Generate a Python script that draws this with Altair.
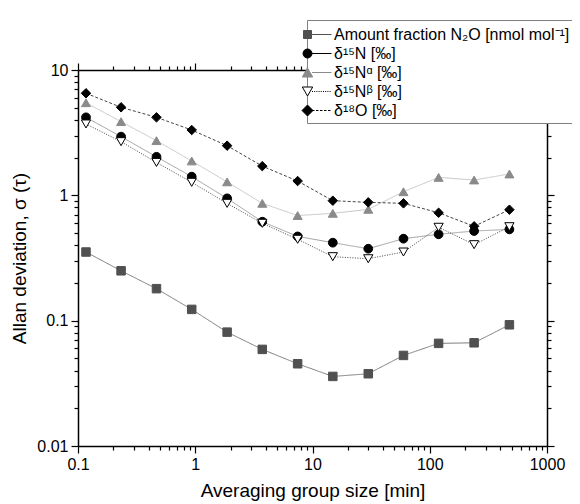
import altair as alt
import pandas as pd

# ---------------- data ----------------
minutes = [0.117, 0.233, 0.467, 0.933, 1.87, 3.73, 7.47, 14.9, 29.9, 59.7, 119, 239, 478]
series = ["Amount fraction N₂O [nmol mol⁻¹]", "δ¹⁵N [‰]", "δ¹⁵Nᵅ [‰]", "δ¹⁵Nᵝ [‰]", "δ¹⁸O [‰]"]
amount = [0.353, 0.250, 0.180, 0.123, 0.081, 0.059, 0.0453, 0.0359, 0.0377, 0.0528, 0.0659, 0.0666, 0.0927]
d15N = [4.19, 2.94, 2.03, 1.41, 0.946, 0.616, 0.470, 0.419, 0.375, 0.451, 0.489, 0.519, 0.535]
d15Na = [5.48, 3.87, 2.73, 1.88, 1.28, 0.863, 0.690, 0.718, 0.773, 1.068, 1.39, 1.325, 1.48]
d15Nb = [3.71, 2.68, 1.83, 1.27, 0.863, 0.598, 0.446, 0.324, 0.312, 0.353, 0.556, 0.404, 0.562]
d18O = [6.52, 5.04, 4.19, 3.32, 2.49, 1.71, 1.30, 0.906, 0.879, 0.863, 0.726, 0.566, 0.768]

x_ticks = [float(f"{m}e{e}") for e in range(-1, 3) for m in range(1, 10)] + [1000.0]
y_ticks = [float(f"{m}e{e}") for e in range(-2, 1) for m in range(1, 10)] + [10.0]

# ---------------- styles ----------------
line_colors = ["#7a7a7a", "#a0a0a0", "#c8c8c8", "#444444", "#444444"]
line_dashes = [[1, 0], [1, 0], [1, 0], [1, 1.5], [3, 2]]
point_fill = ["#505050", "#000000", "#8a8a8a", "#ffffff", "#000000"]
point_stroke = ["#505050", "#000000", "#8a8a8a", "#000000", "#000000"]
point_shape = ["square", "circle", "triangle-up", "triangle-down", "diamond"]
point_size = [72, 90, 121, 121, 121]


def stub(dash, gap):
    if gap == 0:
        return "M-0.95,0H1"
    out, pos = [], -0.95
    while pos < 1:
        end = min(pos + dash, 1)
        out.append(f"M{pos:.3f},0H{end:.3f}")
        pos = end + gap
    return "".join(out)


legend_paths = [
    "M-1.8,-0.4H-1V0.4H-1.8Z" + stub(1, 0),
    "M-1.85,0A0.45,0.45 0 1,0 -0.95,0A0.45,0.45 0 1,0 -1.85,0Z" + stub(1, 0),
    "M-1.4,-0.45L-1.92,0.45L-0.88,0.45Z" + stub(1, 0),
    "M-1.4,0.45L-1.92,-0.45L-0.88,-0.45Z" + stub(0.1, 0.12),
    "M-1.4,-0.55L-0.85,0L-1.4,0.55L-1.95,0Z" + stub(0.25, 0.15),
]

rows = []
for i, (name, vals) in enumerate(zip(series, [amount, d15N, d15Na, d15Nb, d18O])):
    for xv, yv in zip(minutes, vals):
        rows.append({"x": xv, "y": yv, "series": name, "label": name, "ord": i})
df = pd.DataFrame(rows)

FONT = "Liberation Sans, Arial, Helvetica, sans-serif"
MAJOR = "abs(log(datum.value)/LN10 - round(log(datum.value)/LN10)) < 0.001"


def make_axis(orient, ticks, title=None, labels=True, title_pad=8):
    kw = dict(
        orient=orient,
        values=ticks,
        tickSize={"condition": {"test": MAJOR, "value": 7}, "value": 4},
        labels=labels,
        labelOverlap=False,
        labelFlush=False,
        grid=False,
        zindex=1,
    )
    if labels:
        kw["labelExpr"] = f"{MAJOR} ? format(datum.value, '~g') : ''"
    if title is not None:
        kw["title"] = title
        kw["titlePadding"] = title_pad
    else:
        kw["title"] = None
    return alt.Axis(**kw)


xs = alt.Scale(type="log", domain=[0.1, 1000], nice=False)
ys = alt.Scale(type="log", domain=[0.01, 10], nice=False)

lines = alt.Chart(df).mark_line(strokeWidth=1).encode(
    x=alt.X("x:Q", scale=xs, axis=make_axis("bottom", x_ticks, "Averaging group size [min]", title_pad=9)),
    y=alt.Y("y:Q", scale=ys, axis=make_axis("left", y_ticks, "Allan deviation, σ (τ)", title_pad=7)),
    stroke=alt.Stroke("series:N", scale=alt.Scale(domain=series, range=line_colors), legend=None),
    strokeDash=alt.StrokeDash("series:N", scale=alt.Scale(domain=series, range=line_dashes), legend=None),
    detail="series:N",
)

points = alt.Chart(df).mark_point(opacity=1, strokeWidth=1).encode(
    x=alt.X("x:Q", scale=xs, axis=make_axis("top", x_ticks, labels=False)),
    y=alt.Y("y:Q", scale=ys, axis=make_axis("right", y_ticks, labels=False)),
    shape=alt.Shape("series:N", scale=alt.Scale(domain=series, range=point_shape), legend=None),
    fill=alt.Fill("series:N", scale=alt.Scale(domain=series, range=point_fill), legend=None),
    stroke=alt.Stroke("series:N", scale=alt.Scale(domain=series, range=point_stroke), legend=None),
    size=alt.Size("series:O", scale=alt.Scale(domain=series, range=point_size), legend=None),
    order=alt.Order("ord:Q"),
)

leg = alt.Legend(
    orient="none", legendX=229, legendY=-50, title=None,
    padding=4, strokeColor="#808080", fillColor="white",
    labelFont=FONT, labelFontSize=16, labelColor="black", labelLimit=0,
    labelOffset=2, symbolSize=400, symbolStrokeWidth=1, rowPadding=0, zindex=2,
)

legend_layer = alt.Chart(df).transform_filter("false").mark_point(opacity=1, strokeWidth=1).encode(
    shape=alt.Shape("label:N", scale=alt.Scale(domain=series, range=legend_paths), legend=leg),
    fill=alt.Fill("label:N", scale=alt.Scale(domain=series, range=point_fill), legend=leg),
    stroke=alt.Stroke("label:N", scale=alt.Scale(domain=series, range=point_stroke), legend=leg),
)

chart = (
    alt.layer(lines, points, legend_layer)
    .resolve_scale(shape="independent", fill="independent", stroke="independent",
                   strokeDash="independent", size="independent")
    .resolve_axis(x="independent", y="independent")
    .properties(
        width=469, height=376,
        autosize=alt.AutoSizeParams(type="none"),
        padding={"left": 70, "top": 62, "right": 25, "bottom": 58},
        background="white",
    )
    .configure_view(stroke=None)
    .configure_axis(
        domainColor="black", domainWidth=1.5, tickColor="black", tickWidth=1.2,
        labelFont=FONT, labelFontSize=16, labelColor="black", labelPadding=3,
        titleFont=FONT, titleFontSize=19, titleFontWeight="normal", titleColor="black",
    )
)

chart.save("out.html", embed_options={"renderer": "svg", "actions": False})
